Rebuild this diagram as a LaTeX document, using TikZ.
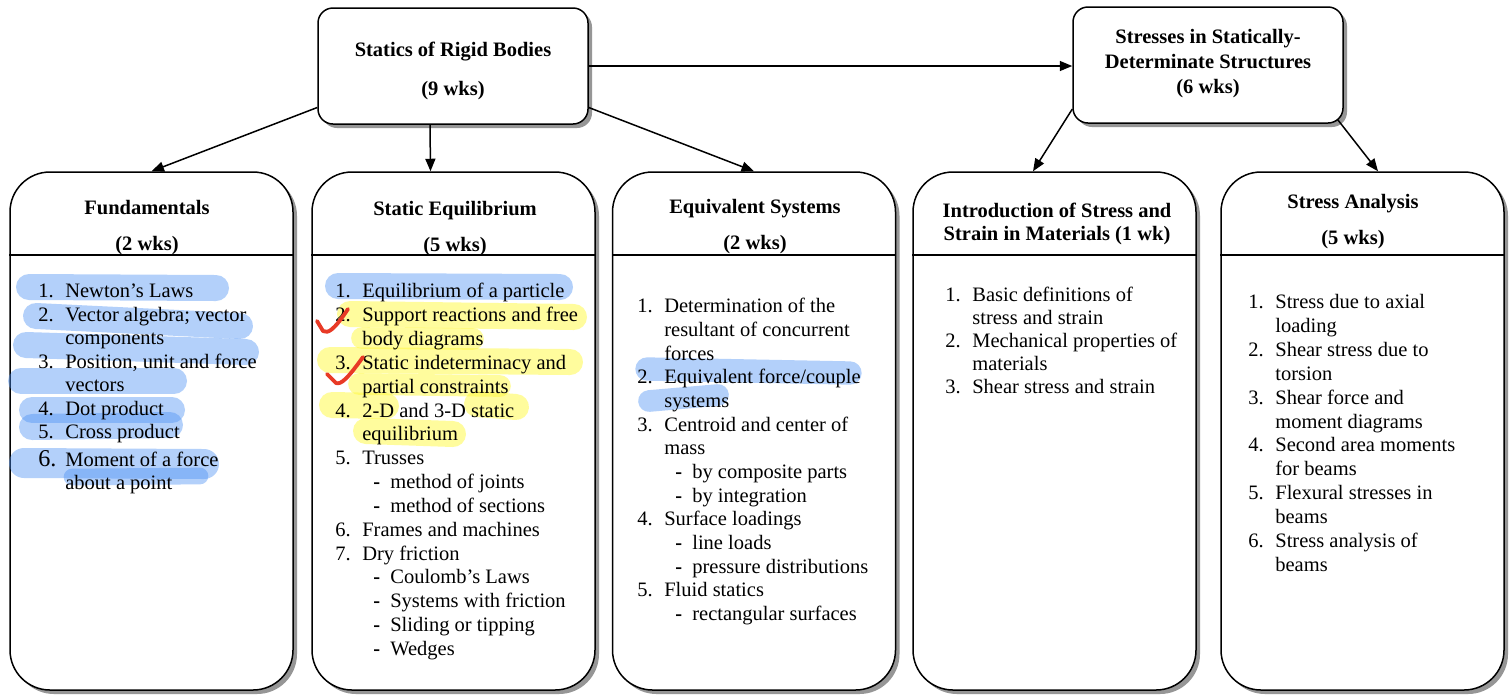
\documentclass[tikz,border=0pt]{standalone}
\usepackage{fontspec}
\setmainfont{Liberation Serif}
\usetikzlibrary{arrows.meta,shadows}
\newlength{\numw}\setlength{\numw}{16.2pt}
\newlength{\subin}\setlength{\subin}{22.8pt}
\newlength{\subw}\setlength{\subw}{10.2pt}
\newcommand{\li}[2]{\makebox[\numw][l]{#1}#2}
\newcommand{\lc}[1]{\hspace*{\numw}#1}
\newcommand{\ls}[1]{\hspace*{\subin}\makebox[\subw][l]{\textbf{-}}#1}
\definecolor{hlb}{RGB}{75,145,245}
\definecolor{hly}{RGB}{255,250,60}
\definecolor{chk}{RGB}{232,58,38}
\definecolor{shd}{RGB}{150,150,150}
\begin{document}
\begin{tikzpicture}[x=0.6pt,y=-0.6pt,
  colbox/.style={draw,line width=0.9pt,fill=white,rounded corners=24pt,
    minimum width=169.8pt,minimum height=310.8pt,inner sep=0pt,
    drop shadow={shadow xshift=2.4pt,shadow yshift=-2.4pt,fill=shd,opacity=1}},
  topbox/.style={draw,line width=0.9pt,fill=white,rounded corners=9pt,
    minimum width=162pt,minimum height=69.6pt,inner sep=0pt,
    drop shadow={shadow xshift=2.4pt,shadow yshift=-2.4pt,fill=shd,opacity=1}},
  hdr/.style={font=\fontsize{12.3}{14}\selectfont\bfseries,inner sep=0pt,anchor=base},
  listtxt/.style={font=\fontsize{12.3}{#1}\selectfont,align=left,inner sep=0pt,anchor=north west},
  listtxt/.default=14.25pt,
  hl/.style={line width=15.6pt,line cap=round,opacity=0.42},
  hlB/.style={hl,draw=hlb},
  hlY/.style={hl,draw=hly,opacity=0.5},
  chkmark/.style={draw=chk,line width=2.3pt,line cap=round,line join=round},
  divider/.style={line width=0.9pt},
  arr/.style={line width=0.9pt,-{Triangle[length=7.5pt,width=6pt]}}
]
\fill[white] (0,0) rectangle (1510,695);
\useasboundingbox (0,0) rectangle (1510,695);

% boxes
\node[topbox] (t1) at (453,66) {};
\node[topbox] (t2) at (1208,65) {};
\node[colbox] (c1) at (151.5,431) {};
\node[colbox] (c2) at (453.5,431) {};
\node[colbox] (c3) at (754,431) {};
\node[colbox] (c4) at (1054.5,431) {};
\node[colbox] (c5) at (1362.5,431) {};

% dividers
\draw[divider] (c1.west |- 0,255) -- (c1.east |- 0,255);
\draw[divider] (c2.west |- 0,255) -- (c2.east |- 0,255);
\draw[divider] (c3.west |- 0,255) -- (c3.east |- 0,255);
\draw[divider] (c4.west |- 0,255) -- (c4.east |- 0,255);
\draw[divider] (c5.west |- 0,255) -- (c5.east |- 0,255);

% connectors
\draw[arr] (t1.197) -- (c1.north);
\draw[arr] ([xshift=-13.8pt]t1.south) -- ([xshift=-13.8pt]c2.north);
\draw[arr] (t1.343) -- (c3.north);
\draw[arr] (t1.east) -- (t1.east -| t2.west);
\draw[arr] (t2.198) -- ([xshift=-12.9pt]c4.north);
\draw[arr] ([xshift=-3.6pt,yshift=2.4pt]t2.south east) -- ([xshift=9.3pt]c5.north);

% highlights
\draw[hlB] (29,287) -- (216,288);
\draw[hlB] (36,316) -- (240,326);
\draw[hlB] (26,345) -- (246,352);
\draw[hlB] (21,381) -- (174,381);
\draw[hlB] (32,410) -- (172,410);
\draw[hlB] (32,427) -- (170,425);
\draw[hlB,line width=18pt] (24,463) -- (204,464);
\draw[hlB,line width=10pt] (72,477) -- (200,476);

\draw[hlB] (338,286) -- (560,287);
\draw[hlY] (350,314) -- (574,317);
\draw[hlY,line width=13pt] (362,338) -- (473,339);
\draw[hlY] (330,360) -- (570,362);
\draw[hlY,line width=13pt] (359,384) -- (500,386);
\draw[hlY] (332,405) -- (386,406);
\draw[hlY] (477,404) -- (516,407);
\draw[hlY] (366,431) -- (453,434);

\draw[hlB,line width=14pt] (647,369) -- (850,373);
\draw[hlB,line width=13pt] (649,401) -- (718,395);

% titles
\node[hdr] (t1a) at (453,56.5) {Statics of Rigid Bodies};
\node[hdr] (t1b) at (453,95) {(9 wks)};
\node[hdr] (t2a) at (1208,43) {Stresses in Statically-};
\node[hdr] (t2b) at (1208,68) {Determinate Structures};
\node[hdr] (t2c) at (1208,93) {(6 wks)};

\node[hdr] (h1a) at (147,214.5) {Fundamentals};
\node[hdr] (h1b) at (147,250) {(2 wks)};
\node[hdr] (h2a) at (455,215.5) {Static Equilibrium};
\node[hdr] (h2b) at (455,251) {(5 wks)};
\node[hdr] (h3a) at (755,213.5) {Equivalent Systems};
\node[hdr] (h3b) at (755,249) {(2 wks)};
\node[hdr] (h4a) at (1057,217) {Introduction of Stress and};
\node[hdr] (h4b) at (1057,240) {Strain in Materials (1 wk)};
\node[hdr] (h5a) at (1353,208) {Stress Analysis};
\node[hdr] (h5b) at (1353,244) {(5 wks)};

% lists
\node[listtxt=14.1pt] (l1) at (38,282.5) {\rule{0pt}{9pt}\li{1.}{Newton’s Laws}\\
\li{2.}{Vector algebra; vector}\\
\lc{components}\\
\li{3.}{Position, unit and force}\\
\lc{vectors}\\
\li{4.}{Dot product}\\
\li{5.}{Cross product}\\[2.4pt]
\li{\fontsize{14.5}{14}\selectfont 6.}{Moment of a force}\\
\lc{about a point}};

\node[listtxt=14.3pt] (l2) at (335,282.5) {\rule{0pt}{9pt}\li{1.}{Equilibrium of a particle}\\
\li{2.}{Support reactions and free}\\
\lc{body diagrams}\\
\li{3.}{Static indeterminacy and}\\
\lc{partial constraints}\\
\li{4.}{2-D and 3-D static}\\
\lc{equilibrium}\\
\li{5.}{Trusses}\\
\ls{method of joints}\\
\ls{method of sections}\\
\li{6.}{Frames and machines}\\
\li{7.}{Dry friction}\\
\ls{Coulomb’s Laws}\\
\ls{Systems with friction}\\
\ls{Sliding or tipping}\\
\ls{Wedges}};

\node[listtxt=14.2pt] (l3) at (637,297.5) {\rule{0pt}{9pt}\li{1.}{Determination of the}\\
\lc{resultant of concurrent}\\
\lc{forces}\\
\li{2.}{Equivalent force/couple}\\
\lc{systems}\\
\li{3.}{Centroid and center of}\\
\lc{mass}\\
\ls{by composite parts}\\
\ls{by integration}\\
\li{4.}{Surface loadings}\\
\ls{line loads}\\
\ls{pressure distributions}\\
\li{5.}{Fluid statics}\\
\ls{rectangular surfaces}};

\node[listtxt=13.8pt] (l4) at (945,286.5) {\rule{0pt}{9pt}\li{1.}{Basic definitions of}\\
\lc{stress and strain}\\
\li{2.}{Mechanical properties of}\\
\lc{materials}\\
\li{3.}{Shear stress and strain}};

\node[listtxt=14.3pt] (l5) at (1248,293.5) {\rule{0pt}{9pt}\li{1.}{Stress due to axial}\\
\lc{loading}\\
\li{2.}{Shear stress due to}\\
\lc{torsion}\\
\li{3.}{Shear force and}\\
\lc{moment diagrams}\\
\li{4.}{Second area moments}\\
\lc{for beams}\\
\li{5.}{Flexural stresses in}\\
\lc{beams}\\
\li{6.}{Stress analysis of}\\
\lc{beams}};

% check marks
\draw[chkmark] (317,321) -- (323,331) .. controls (328,334) and (334,330) .. (348,309);
\draw[chkmark] (327,374) -- (336,383) .. controls (341,385) and (348,378) .. (363,357);
\end{tikzpicture}
\end{document}
